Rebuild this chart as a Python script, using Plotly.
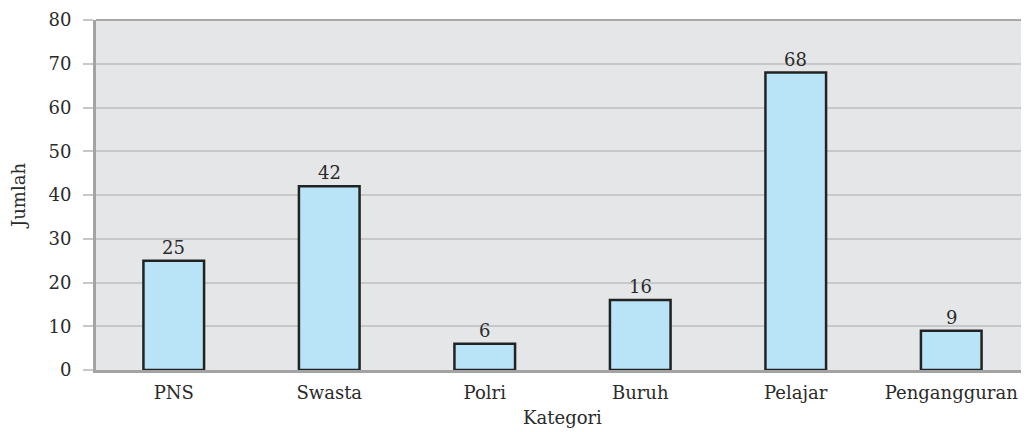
import plotly.graph_objects as go

kategori = ["PNS", "Swasta", "Polri", "Buruh", "Pelajar", "Pengangguran"]
jumlah = [25, 42, 6, 16, 68, 9]
y_ticks = [0, 10, 20, 30, 40, 50, 60, 70, 80]

font_family = "'DejaVu Serif', 'Liberation Serif', serif"

fig = go.Figure(
    go.Bar(
        x=kategori,
        y=jumlah,
        marker=dict(color="#b9e4f8", line=dict(color="#222222", width=2.5)),
        showlegend=False,
        hoverinfo="x+y",
    )
)

# value labels above bars
for k, v in zip(kategori, jumlah):
    fig.add_annotation(
        x=k, y=v, text=str(v), showarrow=False,
        yanchor="bottom", yshift=1,
        font=dict(size=18, color="#2a2a2a", family=font_family),
    )

# page body has 8px margin, so figure is offset by 8px
fig.update_layout(
    width=1021,
    height=420,
    margin=dict(l=88, r=0, t=12, b=58),
    paper_bgcolor="white",
    plot_bgcolor="#e5e6e8",
    bargap=0.61,
    font=dict(family=font_family, size=18, color="#2a2a2a"),
    shapes=[
        dict(type="line", xref="paper", yref="paper", x0=0, x1=1, y0=1, y1=1,
             line=dict(color="#a8a8a8", width=2)),
    ],
)

fig.update_xaxes(
    title=dict(text="Kategori", standoff=13, font=dict(size=18)),
    showline=True,
    linecolor="#a3a3a3",
    linewidth=3,
    ticks="",
    ticklabelstandoff=4,
    tickfont=dict(size=18),
    automargin=False,
)

fig.update_yaxes(
    title=dict(text="Jumlah", standoff=22, font=dict(size=18)),
    range=[0, 80],
    tickvals=y_ticks,
    showgrid=True,
    gridcolor="#c8c8c8",
    gridwidth=1.5,
    showline=True,
    linecolor="#a3a3a3",
    linewidth=3,
    ticks="outside",
    ticklen=10,
    tickcolor="#c8c8c8",
    tickwidth=1.5,
    ticklabelstandoff=8,
    tickfont=dict(size=18),
    zeroline=False,
    automargin=False,
)

fig.write_html("out.html")
